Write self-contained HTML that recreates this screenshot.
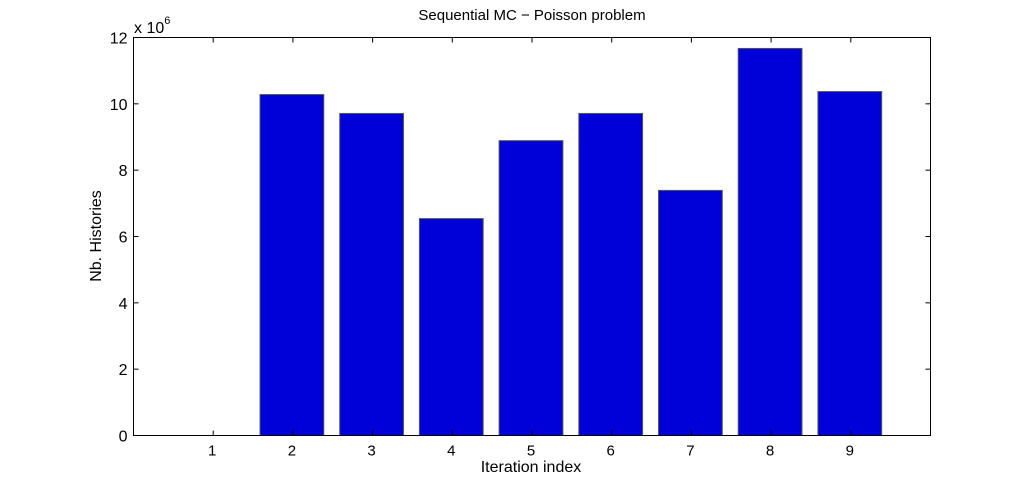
<!DOCTYPE html>
<html><head><meta charset="utf-8"><style>body{margin:0;background:#fff}svg text{font-family:"Liberation Sans",sans-serif;fill:#000}</style></head>
<body>
<svg id="c" width="1025" height="490" xmlns="http://www.w3.org/2000/svg"></svg>
<script>
const categories=[1,2,3,4,5,6,7,8,9];
const values=[0,10.28,9.71,6.54,8.89,9.71,7.39,11.67,10.37];
const yTicks=[0,2,4,6,8,10,12];
const L=133.5,R=930.5,T=37.5,B=435.5;
const xs=v=>L+(R-L)*v/10, ys=v=>B-(B-T)*v/12;
const svg=document.getElementById('c'),NS='http://www.w3.org/2000/svg';
function mk(t,a,p){const e=document.createElementNS(NS,t);for(const k in a)e.setAttribute(k,a[k]);(p||svg).appendChild(e);return e;}
const bg=mk('rect',{x:L,y:T,width:R-L,height:B-T,fill:'#fff'});


categories.forEach((c,i)=>{
 const b=mk('rect',{x:xs(c-0.4)-1,y:ys(values[i]),width:xs(0.8)-xs(0),height:B-ys(values[i]),fill:'#0000d8',stroke:'#555','stroke-width':1});
 
 
 mk('line',{x1:xs(c),x2:xs(c),y1:B,y2:B-5,stroke:'#000'});
 mk('line',{x1:xs(c),x2:xs(c),y1:T,y2:T+5,stroke:'#000'});
 const t=mk('text',{x:xs(c)-1,y:B+20,'text-anchor':'middle','font-size':15});t.textContent=c;
 
 
});
yTicks.forEach(v=>{
 mk('line',{x1:L,x2:L+5,y1:ys(v),y2:ys(v),stroke:'#000'});
 mk('line',{x1:R,x2:R-5,y1:ys(v),y2:ys(v),stroke:'#000'});
 const t=mk('text',{x:L-6,y:ys(v)+6,'text-anchor':'end','font-size':16});t.textContent=v;
 
 
});
const fr=mk('rect',{x:L,y:T,width:R-L,height:B-T,fill:'none',stroke:'#000'});


</script>
<svg style="position:absolute;left:0;top:0" width="1025" height="490" xmlns="http://www.w3.org/2000/svg">
<text x="532" y="20" text-anchor="middle" font-size="15">Sequential MC − Poisson problem</text>
<text x="531" y="472" text-anchor="middle" font-size="16">Iteration index</text>
<text transform="translate(101,236) rotate(-90)" text-anchor="middle" font-size="16">Nb. Histories</text>
<text x="134" y="33" font-size="16">x 10<tspan dy="-9" font-size="11">6</tspan></text>
</svg>
</body></html>
